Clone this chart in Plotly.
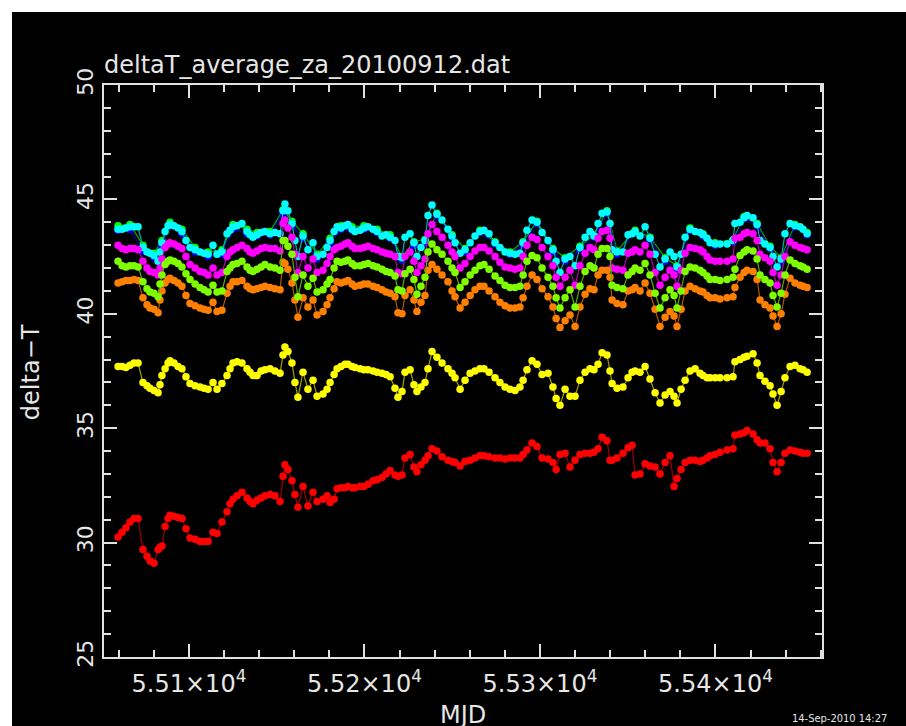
import plotly.graph_objects as go

# Observation epochs (MJD)
mjd = [
    55059.6, 55061.9, 55064.1, 55066.4, 55068.7, 55071.0, 55073.8, 55076.1, 55077.8, 55080.1,
    55082.4, 55083.5, 55084.6, 55086.4, 55088.1, 55089.2, 55091.5, 55093.8, 55096.0, 55098.3,
    55100.6, 55103.5, 55106.3, 55108.6, 55110.9, 55113.7, 55116.0, 55118.8, 55121.7, 55123.4,
    55125.1, 55127.4, 55130.2, 55133.1, 55134.8, 55136.5, 55138.8, 55141.1, 55143.3, 55146.2,
    55149.0, 55151.9, 55153.6, 55154.7, 55156.4, 55158.7, 55160.4, 55162.1, 55165.0, 55167.8,
    55170.7, 55173.0, 55176.4, 55178.7, 55180.4, 55182.7, 55184.4, 55186.6, 55188.9, 55190.6,
    55192.9, 55194.6, 55197.5, 55199.7, 55202.0, 55204.9, 55207.2, 55210.0, 55212.3, 55214.6,
    55217.4, 55219.1, 55221.4, 55223.1, 55226.0, 55228.2, 55229.9, 55232.2, 55234.5, 55236.2,
    55238.5, 55241.3, 55244.2, 55247.6, 55249.9, 55251.6, 55254.5, 55257.3, 55260.2, 55263.0,
    55265.8, 55268.1, 55271.0, 55274.4, 55277.2, 55280.1, 55282.9, 55285.8, 55288.6, 55290.4,
    55292.6, 55295.5, 55298.3, 55301.2, 55304.6, 55307.4, 55309.2, 55311.4, 55314.3, 55317.1,
    55320.0, 55322.8, 55325.7, 55328.5, 55330.8, 55333.1, 55335.4, 55338.2, 55339.9, 55341.1,
    55343.9, 55347.3, 55350.2, 55352.5, 55354.2, 55357.0, 55359.9, 55362.7, 55365.6, 55368.4,
    55371.3, 55374.1, 55376.4, 55378.1, 55380.4, 55382.7, 55385.5, 55388.4, 55391.2, 55392.9,
    55395.2, 55396.9, 55399.8, 55402.6, 55406.6, 55410.0, 55411.1, 55414.0, 55416.3, 55418.0,
    55421.4, 55423.7, 55425.4, 55428.2, 55431.1, 55432.8, 55435.1, 55437.4, 55439.6, 55442.5,
    55445.3, 55448.2, 55449.9, 55452.2,
]

cyan_vals = [
    43.7, 43.7, 43.75, 43.8, 43.8, 43.8, 42.9, 42.7, 42.65, 42.55,
    42.3, 42.7, 43.1, 43.6, 43.85, 43.9, 43.85, 43.75, 43.6, 43.2,
    42.9, 42.8, 42.7, 42.65, 42.6, 43.0, 42.6, 42.7, 43.5, 43.65,
    43.8, 43.85, 43.95, 43.6, 43.45, 43.35, 43.45, 43.55, 43.6, 43.5,
    43.55, 43.5, 44.5, 44.8, 44.5, 43.95, 43.2, 42.5, 43.4, 42.8,
    43.1, 42.5, 42.6, 42.9, 43.2, 43.6, 43.8, 43.75, 43.85, 43.9,
    43.7, 43.6, 43.65, 43.75, 43.8, 43.7, 43.6, 43.4, 43.45, 43.35,
    43.2, 42.5, 42.45, 43.35, 43.5, 43.1, 42.5, 42.9, 43.2, 44.3,
    44.75, 44.35, 44.1, 43.7, 43.4, 43.1, 42.65, 42.8, 43.1, 43.4,
    43.6, 43.65, 43.5, 43.1, 42.9, 42.7, 42.65, 42.6, 42.65, 43.1,
    43.65, 44.1, 44.0, 43.55, 43.2, 42.8, 42.3, 41.8, 42.4, 42.5,
    42.1, 42.9, 43.35, 43.6, 43.4, 43.95, 44.4, 44.45, 43.95, 42.8,
    42.7, 42.7, 43.45, 43.5, 43.6, 43.4, 43.8, 43.3, 42.6, 42.05,
    42.4, 42.7, 42.5, 42.05, 42.6, 43.35, 43.7, 43.6, 43.55, 43.45,
    43.3, 43.1, 43.05, 43.05, 43.05, 43.2, 43.95, 44.0, 44.2, 44.3,
    44.2, 43.9, 43.2, 43.05, 42.9, 42.5, 42.05, 42.4, 43.5, 43.95,
    43.85, 43.8, 43.7, 43.5,
]

magenta_vals = [
    43.0, 42.85, 42.8, 42.85, 42.85, 42.8, 42.3, 42.0, 41.85, 41.8,
    41.7, 42.0, 42.4, 42.9, 43.05, 43.1, 43.05, 42.95, 42.85, 42.5,
    42.15, 42.0, 41.85, 41.8, 41.7, 42.0, 41.7, 41.8, 42.5, 42.7,
    42.8, 42.9, 43.0, 42.85, 42.7, 42.65, 42.75, 42.85, 42.9, 42.85,
    42.85, 42.75, 43.95, 44.1, 43.75, 43.35, 42.6, 41.8, 42.5, 42.0,
    42.4, 41.8, 41.9, 42.2, 42.5, 42.8, 42.9, 42.95, 43.05, 43.1,
    42.95, 42.85, 42.85, 42.9, 42.95, 42.85, 42.8, 42.7, 42.65, 42.6,
    42.5, 41.8, 41.75, 42.5, 42.7, 42.3, 41.8, 42.1, 42.4, 43.5,
    43.9, 43.6, 43.35, 43.0, 42.7, 42.5, 42.0, 42.2, 42.5, 42.75,
    42.9, 42.9, 42.75, 42.5, 42.25, 42.05, 42.0, 41.95, 42.0, 42.5,
    43.0, 43.35, 43.25, 42.9, 42.5, 42.1, 41.6, 41.2, 41.6, 41.9,
    41.25, 42.1, 42.65, 42.9, 42.8, 43.3, 43.6, 43.65, 43.3, 42.0,
    41.95, 41.9, 42.65, 42.7, 42.8, 42.7, 43.0, 42.6, 41.8, 41.25,
    41.6, 41.9, 41.7, 41.2, 41.9, 42.65, 42.9, 42.85, 42.8, 42.7,
    42.5, 42.35, 42.3, 42.3, 42.3, 42.4, 43.3, 43.35, 43.5, 43.55,
    43.5, 43.2, 42.6, 42.45, 42.3, 41.8, 41.25, 41.7, 42.5, 43.15,
    43.0, 42.9, 42.85, 42.8,
]

lime_vals = [
    42.3, 42.1, 42.05, 42.1, 42.1, 42.05, 41.4, 41.1, 40.95, 40.9,
    40.75, 41.3, 41.7, 42.15, 42.3, 42.35, 42.3, 42.2, 42.05, 41.75,
    41.5, 41.3, 41.15, 41.05, 40.95, 41.25, 40.95, 41.0, 41.85, 42.0,
    42.15, 42.2, 42.3, 42.05, 41.9, 41.85, 41.95, 42.05, 42.15, 42.05,
    42.0, 41.9, 43.2, 43.2, 42.95, 42.6, 41.6, 40.75, 41.7, 41.2,
    41.55, 40.95, 41.05, 41.3, 41.5, 42.0, 42.3, 42.25, 42.3, 42.35,
    42.2, 42.1, 42.1, 42.15, 42.2, 42.1, 42.05, 41.95, 41.85, 41.8,
    41.65, 41.05, 41.0, 41.75, 41.95, 41.5, 40.85, 41.2, 41.6, 42.7,
    43.05, 42.8, 42.6, 42.3, 42.0, 41.8, 41.15, 41.4, 41.7, 41.9,
    42.1, 42.15, 41.95, 41.65, 41.45, 41.25, 41.15, 41.15, 41.2, 41.7,
    42.3, 42.55, 42.45, 42.0, 41.6, 41.2, 40.7, 40.25, 40.7, 41.05,
    40.3, 41.2, 41.85, 42.1, 42.0, 42.6, 42.85, 42.85, 42.5, 41.25,
    41.15, 41.1, 41.7, 41.85, 42.0, 41.9, 42.2, 41.7, 40.9, 40.25,
    40.7, 41.05, 40.8, 40.25, 41.0, 41.85, 42.05, 42.0, 41.9, 41.8,
    41.65, 41.5, 41.5, 41.45, 41.5, 41.6, 41.95, 42.55, 42.7, 42.8,
    42.75, 42.4, 41.7, 41.5, 41.35, 40.8, 40.3, 40.9, 41.7, 42.35,
    42.2, 42.1, 42.05, 41.95,
]

orange_vals = [
    41.35, 41.4, 41.45, 41.45, 41.5, 41.45, 40.7, 40.4, 40.25, 40.2,
    40.05, 40.6, 41.0, 41.35, 41.5, 41.55, 41.45, 41.35, 41.2, 40.8,
    40.45, 40.35, 40.25, 40.2, 40.15, 40.5, 40.1, 40.15, 40.9, 41.2,
    41.4, 41.4, 41.45, 41.2, 41.1, 41.05, 41.1, 41.15, 41.2, 41.15,
    41.1, 41.05, 42.25, 42.2, 41.95, 41.35, 40.6, 39.85, 40.7, 40.3,
    40.6, 39.95, 40.1, 40.4, 40.7, 41.1, 41.4, 41.35, 41.4, 41.45,
    41.3, 41.2, 41.25, 41.3, 41.3, 41.2, 41.15, 41.05, 40.95, 40.9,
    40.75, 40.05, 40.0, 40.8, 41.05, 40.6, 40.1, 40.5, 40.8, 41.9,
    42.15, 41.95, 41.7, 41.4, 41.0, 40.75, 40.25, 40.5, 40.8, 41.05,
    41.2, 41.2, 41.0, 40.75, 40.5, 40.35, 40.25, 40.25, 40.3, 40.7,
    41.2, 41.7, 41.5, 41.1, 40.75, 40.3, 39.8, 39.4, 39.7, 39.95,
    39.45, 40.3, 40.85, 41.1, 41.05, 41.7, 41.9, 41.9, 41.6, 40.6,
    40.45, 40.4, 41.0, 41.05, 41.15, 41.0, 41.35, 40.9, 40.2, 39.45,
    39.85, 40.1, 39.9, 39.45, 40.2, 41.0, 41.2, 41.1, 41.0, 40.95,
    40.8, 40.7, 40.7, 40.65, 40.7, 40.75, 41.15, 41.6, 41.8, 41.9,
    41.85, 41.5, 40.6, 40.4, 40.25, 39.9, 39.45, 40.0, 40.85, 41.55,
    41.35, 41.25, 41.2, 41.15,
]

yellow_vals = [
    37.7, 37.7, 37.65, 37.75, 37.85, 37.85, 37.0, 36.85, 36.75, 36.65,
    36.55, 36.9, 37.3, 37.6, 37.85, 37.95, 37.85, 37.7, 37.6, 37.25,
    36.95, 36.85, 36.8, 36.75, 36.7, 37.0, 36.7, 36.95, 37.3, 37.6,
    37.85, 37.9, 37.85, 37.6, 37.45, 37.3, 37.3, 37.5, 37.55, 37.6,
    37.5, 37.4, 38.2, 38.55, 38.35, 37.85, 37.0, 36.35, 37.45, 36.7,
    37.1, 36.4, 36.5, 36.7, 37.0, 37.35, 37.6, 37.7, 37.8, 37.8,
    37.7, 37.65, 37.6, 37.55, 37.55, 37.5, 37.45, 37.4, 37.35, 37.25,
    36.75, 36.35, 36.6, 37.45, 37.55, 36.9, 36.6, 36.8, 37.0, 37.6,
    38.35, 38.1, 37.85, 37.6, 37.4, 37.2, 36.7, 37.1, 37.4, 37.5,
    37.6, 37.6, 37.45, 37.2, 37.0, 36.8, 36.7, 36.65, 36.8, 37.1,
    37.55, 37.95, 37.8, 37.35, 37.4, 36.8, 36.3, 36.0, 36.7, 36.4,
    36.4, 37.1, 37.45, 37.6, 37.55, 37.8, 38.3, 38.2, 37.5, 36.95,
    36.75, 36.8, 37.2, 37.45, 37.5, 37.45, 37.7, 37.15, 36.55, 36.1,
    36.45, 36.6, 36.4, 36.1, 36.7, 37.1, 37.5, 37.6, 37.4, 37.3,
    37.2, 37.2, 37.2, 37.2, 37.2, 37.25, 37.9, 38.0, 38.1, 38.15,
    38.25, 37.85, 37.3, 37.05, 36.85, 36.5, 36.0, 36.6, 37.2, 37.7,
    37.75, 37.6, 37.55, 37.45,
]

red_vals = [
    30.25, 30.45, 30.65, 30.9, 31.05, 31.05, 29.7, 29.4, 29.2, 29.1,
    29.7, 29.8, 29.85, 30.7, 31.05, 31.2, 31.15, 31.1, 31.05, 30.6,
    30.2, 30.15, 30.05, 30.05, 30.05, 30.45, 30.4, 30.9, 31.35, 31.7,
    31.9, 32.05, 32.2, 31.95, 31.8, 31.7, 31.85, 31.95, 32.05, 32.1,
    32.05, 31.8, 32.9, 33.4, 33.2, 32.7, 32.1, 31.55, 32.45, 31.6,
    32.2, 31.8, 31.9, 32.05, 31.75, 31.9, 32.35, 32.4, 32.4, 32.45,
    32.4, 32.4, 32.45, 32.45, 32.55, 32.7, 32.75, 32.85, 33.0, 33.15,
    32.95, 32.9, 32.95, 33.7, 33.85, 33.3, 33.1, 33.4, 33.6, 33.8,
    34.1, 34.0, 33.75, 33.6, 33.55, 33.5, 33.35, 33.55, 33.6, 33.7,
    33.8, 33.8, 33.75, 33.7, 33.7, 33.65, 33.7, 33.7, 33.7, 33.85,
    34.05, 34.35, 34.2, 33.7, 33.65, 33.5, 33.2, 33.85, 33.9, 33.3,
    33.6, 33.85, 33.9, 33.9, 33.95, 34.1, 34.6, 34.45, 33.6, 33.6,
    33.7, 33.9, 34.15, 34.25, 32.95, 33.0, 33.45, 33.35, 33.3, 33.0,
    33.5, 33.8, 32.45, 32.8, 33.2, 33.5, 33.6, 33.6, 33.55, 33.6,
    33.7, 33.8, 33.85, 33.95, 34.05, 34.1, 34.7, 34.75, 34.8, 34.9,
    34.75, 34.5, 34.35, 34.35, 34.1, 33.5, 33.1, 33.5, 33.9, 34.05,
    34.0, 33.95, 33.9, 33.9,
]

# Two further channels that run almost on top of the cyan one
mjd_sub = [
    55059.6, 55066.4, 55073.8, 55080.1, 55084.6, 55089.2, 55096.0, 55103.5, 55110.9, 55118.8,
    55125.1, 55133.1, 55138.8, 55146.2, 55153.6, 55158.7, 55165.0, 55173.0, 55180.4, 55186.6,
    55192.9, 55199.7, 55207.2, 55214.6, 55221.4, 55228.2, 55234.5, 55241.3, 55249.9, 55257.3,
    55265.8, 55274.4, 55282.9, 55290.4, 55298.3, 55307.4, 55314.3, 55322.8, 55330.8, 55338.2,
    55343.9, 55354.2, 55362.7, 55371.3, 55378.1, 55385.5, 55392.9, 55399.8, 55410.0, 55416.3,
    55423.7, 55431.1, 55437.4, 55445.3, 55452.2,
]
green_vals = [
    43.85, 43.9, 43.0, 42.65, 43.2, 44.0, 43.7, 42.9, 42.7, 42.8,
    43.9, 43.7, 43.55, 43.6, 44.55, 44.05, 43.5, 42.6, 43.3, 43.85,
    43.8, 43.85, 43.7, 43.45, 42.5, 43.15, 43.25, 44.4, 43.45, 42.85,
    43.65, 43.15, 42.7, 43.15, 44.05, 42.85, 42.45, 42.95, 43.45, 44.5,
    42.75, 43.65, 43.35, 42.45, 42.1, 43.75, 43.5, 43.1, 43.25, 44.25,
    43.95, 42.95, 42.45, 43.9, 43.55,
]
blue_vals = [
    43.65, 43.7, 42.75, 42.45, 43.0, 43.85, 43.5, 42.7, 42.5, 42.6,
    43.7, 43.5, 43.4, 43.45, 44.4, 43.85, 43.3, 42.4, 43.1, 43.7,
    43.65, 43.7, 43.55, 43.3, 42.35, 43.0, 43.1, 44.3, 43.35, 42.7,
    43.55, 43.05, 42.6, 43.0, 43.95, 42.7, 42.3, 42.8, 43.35, 44.4,
    42.6, 43.55, 43.25, 42.3, 41.95, 43.65, 43.4, 43.0, 43.15, 44.15,
    43.85, 42.85, 42.3, 43.8, 43.45,
]

x_tick_vals = [55100, 55200, 55300, 55400]
x_tick_text = ["5.51×10<sup>4</sup>", "5.52×10<sup>4</sup>",
               "5.53×10<sup>4</sup>", "5.54×10<sup>4</sup>"]
y_tick_vals = [25, 30, 35, 40, 45, 50]

# (x, y, marker colour, line colour)
series = [
    (mjd_sub, green_vals, "#00ff00", "#00b000"),
    (mjd_sub, blue_vals, "#0000ff", "#0000b0"),
    (mjd, cyan_vals, "#00ffff", "#00b0b0"),
    (mjd, magenta_vals, "#ff00ff", "#b000b0"),
    (mjd, yellow_vals, "#ffff00", "#a0a000"),
    (mjd, orange_vals, "#ff8000", "#b05800"),
    (mjd, lime_vals, "#80ff00", "#58b000"),
    (mjd, red_vals, "#ff0000", "#a00000"),
]

fig = go.Figure()
for xs, ys, mc, lc in series:
    fig.add_trace(go.Scatter(
        x=xs, y=ys, mode="lines+markers",
        line=dict(color=lc, width=1.2),
        marker=dict(color=mc, size=7.5, symbol="circle", line=dict(width=0)),
        showlegend=False, hoverinfo="skip",
    ))

FONT = "DejaVu Sans, Liberation Sans, sans-serif"
TXT = "#e6e6e6"
AX = "#e0e0e0"

fig.update_layout(
    width=906, height=726,
    margin=dict(l=104, r=84, t=85, b=69),
    paper_bgcolor="#000000", plot_bgcolor="#000000",
    font=dict(family=FONT, color=TXT, size=24),
    title=dict(
        text="deltaT_average_za_20100912.dat",
        x=0, xref="paper", xanchor="left",
        y=1 - 65 / 726, yref="container", yanchor="middle",
        font=dict(family=FONT, size=24, color=TXT),
    ),
    xaxis=dict(
        range=[55051.6, 55460.7],
        tickmode="array", tickvals=x_tick_vals, ticktext=x_tick_text,
        ticks="inside", ticklen=13, tickwidth=1.5, tickcolor=AX,
        minor=dict(ticks="inside", ticklen=7, tickwidth=1.5, tickcolor=AX,
                   tickmode="linear", tick0=55000, dtick=20),
        showline=True, linecolor=AX, linewidth=2, mirror="ticks",
        showgrid=False, zeroline=False,
        tickfont=dict(family=FONT, size=24, color=TXT),
        ticklabelstandoff=4,
    ),
    yaxis=dict(
        range=[25, 50],
        tickmode="array", tickvals=y_tick_vals,
        ticks="inside", ticklen=13, tickwidth=1.5, tickcolor=AX,
        minor=dict(ticks="inside", ticklen=7, tickwidth=1.5, tickcolor=AX,
                   tickmode="linear", tick0=25, dtick=1),
        showline=True, linecolor=AX, linewidth=2, mirror="ticks",
        showgrid=False, zeroline=False,
        tickangle=-90,
        tickfont=dict(family=FONT, size=22, color=TXT),
    ),
    annotations=[
        dict(text="MJD", xref="paper", yref="paper", x=0.5, y=(657 - 715) / 572,
             xanchor="center", yanchor="middle", showarrow=False,
             font=dict(family=FONT, size=24, color=TXT)),
        dict(text="delta−T", xref="paper", yref="paper", x=(31 - 104) / 718, y=0.498,
             xanchor="center", yanchor="middle", showarrow=False, textangle=-90,
             font=dict(family=FONT, size=24, color=TXT)),
        dict(text="14-Sep-2010 14:27", xref="paper", yref="paper",
             x=(790 - 104) / 718, y=(657 - 718) / 572,
             xanchor="left", yanchor="middle", showarrow=False,
             font=dict(family="Liberation Sans Narrow, DejaVu Sans Condensed, sans-serif",
                       size=11, color=TXT)),
    ],
    shapes=[
        # white strips along the top and left edges of the page
        dict(type="rect", xref="paper", yref="paper", layer="above",
             x0=-104 / 718, x1=(12 - 104) / 718, y0=(657 - 740) / 572, y1=(657 + 10) / 572,
             fillcolor="#ffffff", line=dict(width=0)),
        dict(type="rect", xref="paper", yref="paper", layer="above",
             x0=-104 / 718, x1=(920 - 104) / 718, y0=(657 - 12) / 572, y1=(657 + 10) / 572,
             fillcolor="#ffffff", line=dict(width=0)),
    ],
)

fig.write_html("out.html")
